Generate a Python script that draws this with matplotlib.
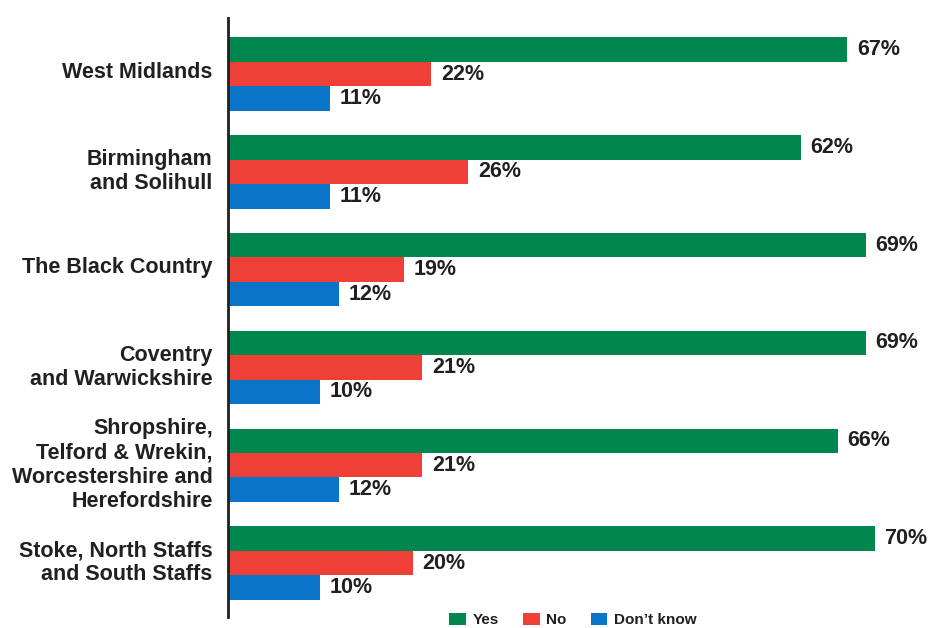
import numpy as np
import matplotlib.pyplot as plt
from matplotlib.patches import Patch

plt.rcParams['font.family'] = ['Liberation Sans', 'DejaVu Sans']

regions = ['West Midlands',
           'Birmingham\nand Solihull',
           'The Black Country',
           'Coventry\nand Warwickshire',
           'Shropshire,\nTelford & Wrekin,\nWorcestershire and\nHerefordshire',
           'Stoke, North Staffs\nand South Staffs']
yes = [67, 62, 69, 69, 66, 70]
no = [22, 26, 19, 21, 21, 20]
dont_know = [11, 11, 12, 10, 12, 10]

series = [('Yes', yes, '#00874f'), ('No', no, '#ee4036'), ("Don\u2019t know", dont_know, '#0a74c8')]

fig = plt.figure(figsize=(9.29, 6.28), dpi=100)
ax = fig.add_axes([228 / 929, 1 - 617 / 628, 1 - 228 / 929, 599 / 628])

pos = np.arange(len(regions))
h = 0.25
for k, (name, vals, col) in enumerate(series):
    ypos = pos + (k - 1) * h
    bars = ax.barh(ypos, vals, height=h, color=col, label=name)
    for b, v in zip(bars, vals):
        ax.annotate(f'{v}%', (b.get_width(), b.get_y() + h / 2), xytext=(7, 0),
                    textcoords='offset points', va='center', ha='left',
                    fontsize=15.5, fontweight='bold', color='#231f20')

ax.set_xlim(0, 701 / 9.24)
ax.set_ylim(5.552, -0.573)
# region names sit a little above the middle bar
ax.set_yticks(pos - 0.045)
ax.set_yticklabels(regions, fontsize=15.5, fontweight='bold', color='#231f20',
                   linespacing=1.2)
ax.tick_params(axis='y', length=0, pad=11)
ax.set_xticks([])
for s in ['top', 'right', 'bottom']:
    ax.spines[s].set_visible(False)
ax.spines['left'].set_linewidth(2)
ax.spines['left'].set_color('#231f20')

handles = [Patch(facecolor=c, label=n) for n, _, c in series]
leg = fig.legend(handles=handles, loc='center', bbox_to_anchor=(573 / 929, 1 - 620 / 628),
                 ncol=3, frameon=False, handlelength=1.1, handleheight=0.9,
                 handletextpad=0.45, columnspacing=1.55,
                 prop={'size': 11, 'weight': 'bold'})
for t in leg.get_texts():
    t.set_color('#231f20')

fig.savefig('out.png', dpi=100)
